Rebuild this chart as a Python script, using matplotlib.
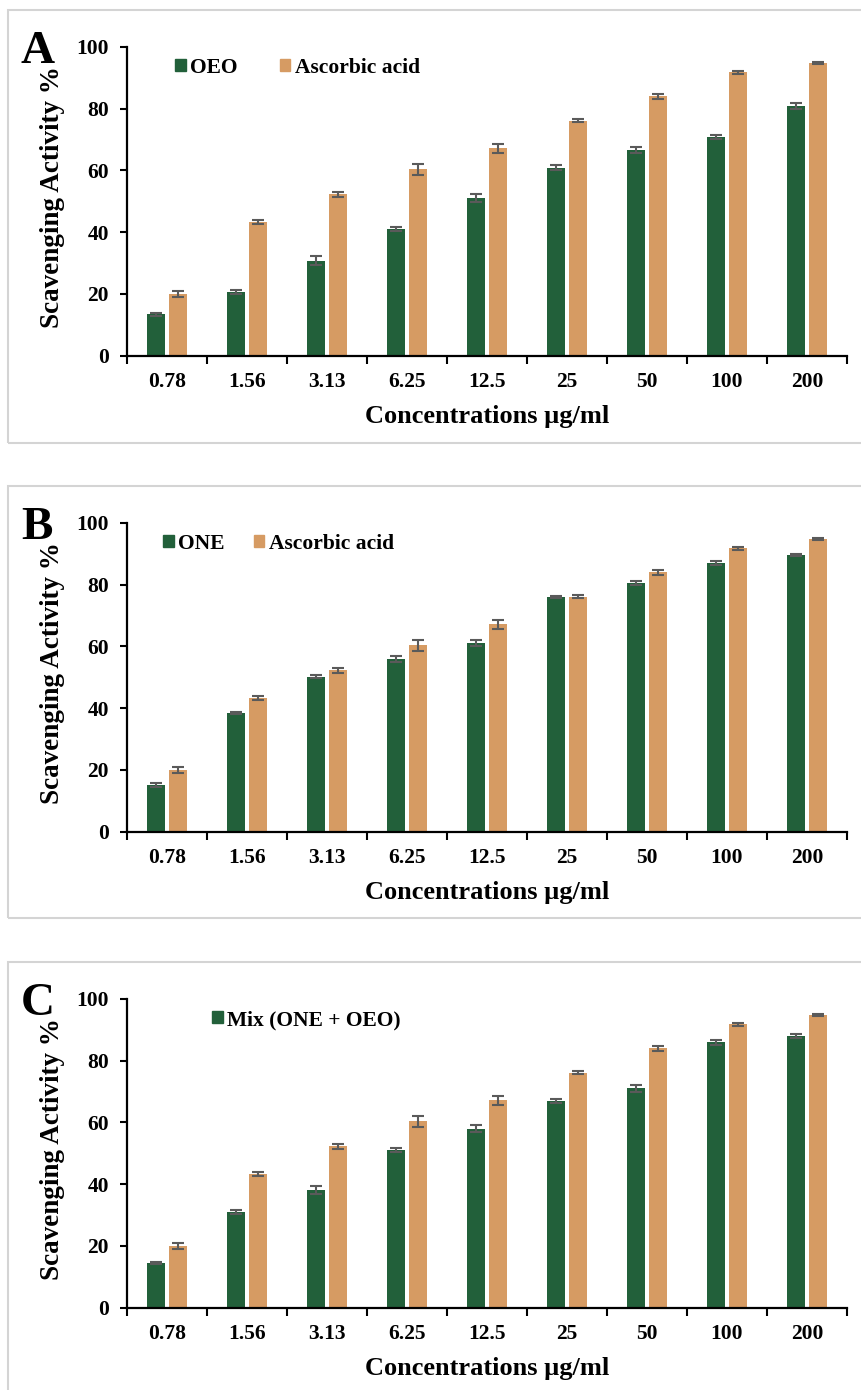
import numpy as np
import matplotlib
matplotlib.use('Agg')
import matplotlib.pyplot as plt
from matplotlib.patches import Rectangle, Patch

plt.rcParams['font.family'] = ['Liberation Serif', 'DejaVu Serif']
plt.rcParams['font.weight'] = 'bold'

concentrations = ['0.78', '1.56', '3.13', '6.25', '12.5', '25', '50', '100', '200']

ascorbic = [20.0, 43.2, 52.2, 60.3, 67.2, 76.1, 84.1, 91.8, 94.8]
ascorbic_err = [1.0, 0.6, 0.8, 1.7, 1.5, 0.5, 0.8, 0.5, 0.4]

oeo = [13.4, 20.6, 30.7, 41.0, 51.0, 60.9, 66.6, 70.9, 80.8]
oeo_err = [0.5, 0.7, 1.5, 0.8, 1.2, 0.7, 1.0, 0.6, 1.0]

one = [15.0, 38.4, 50.2, 55.8, 61.0, 76.0, 80.5, 87.0, 89.6]
one_err = [0.7, 0.3, 0.6, 1.0, 1.0, 0.4, 0.7, 0.6, 0.4]

mix = [14.5, 31.0, 38.0, 51.0, 58.0, 67.0, 71.0, 86.0, 88.0]
mix_err = [0.4, 0.6, 1.3, 0.7, 1.0, 0.7, 1.2, 0.8, 0.8]

green = '#22603a'
tan = '#d69b63'
err_col = '#5a5a5a'

W, H = 862, 1390
fig = plt.figure(figsize=(W / 100, H / 100), dpi=100)

# letter, values, errors, legend name, show ascorbic in legend, y of zero line, frame top, frame bottom,
# legend left (px), legend column spacing (em)
panels = [
    ('A', oeo, oeo_err, 'OEO', True, 355.5, 10, 443, 175, 1.95),
    ('B', one, one_err, 'ONE', True, 831.5, 486, 918, 163, 1.35),
    ('C', mix, mix_err, 'Mix (ONE + OEO)', False, 1307.5, 962, 1420, 212, 1.0),
]

x = np.arange(len(concentrations))
bw = 0.22
off = 0.14
ax_h = 308.5

for letter, vals, errs, name, show_asc, y0, box_top, box_bot, leg_px, colsp in panels:
    # light gray frame around each panel
    fig.patches.append(Rectangle((8 / W, 1 - box_bot / H), (W + 20) / W, (box_bot - box_top) / H,
                                 transform=fig.transFigure, fill=False, edgecolor='#d4d4d4',
                                 linewidth=1.5, clip_on=False))
    ax = fig.add_axes([127 / W, 1 - y0 / H, 720 / W, ax_h / H])
    ekw = dict(ecolor=err_col, elinewidth=1.5, capsize=4.2, capthick=1.5)
    ax.bar(x - off, vals, bw, color=green, yerr=errs, error_kw=ekw, zorder=2)
    ax.bar(x + off, ascorbic, bw, color=tan, yerr=ascorbic_err, error_kw=ekw, zorder=2)
    ax.set_ylim(0, 100)
    ax.set_xlim(-0.5, len(concentrations) - 0.5)
    ax.set_yticks([0, 20, 40, 60, 80, 100])
    ax.set_xticks(x)
    ax.set_xticklabels(concentrations)
    ax.set_xticks(np.arange(-0.5, len(concentrations)), minor=True)
    ax.tick_params(axis='x', which='major', length=0, labelsize=15.5, pad=12)
    ax.tick_params(axis='x', which='minor', length=6, width=1.5, direction='out')
    ax.tick_params(axis='y', length=5, width=1.5, labelsize=15.5, pad=8)
    for s in ['top', 'right']:
        ax.spines[s].set_visible(False)
    for s in ['left', 'bottom']:
        ax.spines[s].set_linewidth(1.6)
    for t in ax.get_xticklabels() + ax.get_yticklabels():
        t.set_fontweight('bold')
    ax.set_xlabel('Concentrations µg/ml', fontsize=19, fontweight='bold', labelpad=9.5)
    fig.text(53 / W, 1 - (y0 - ax_h / 2 - 4) / H, 'Scavenging Activity %', fontsize=19.5,
             fontweight='bold', rotation=90, ha='center', va='center')

    handles = [Patch(color=green, label=name)]
    if show_asc:
        handles.append(Patch(color=tan, label='Ascorbic acid'))
    ax.legend(handles=handles, loc='center left',
              bbox_to_anchor=((leg_px - 127) / 720, 1 - 21 / ax_h), ncol=2,
              frameon=False, borderpad=0, borderaxespad=0, handlelength=0.5, handleheight=0.5,
              handletextpad=0.2, columnspacing=colsp, prop={'size': 15.5, 'weight': 'bold'})

    fig.text(21 / W, 1 - (63 + box_top - 10) / H, letter, fontsize=34, fontweight='bold',
             ha='left', va='baseline')

fig.savefig('out.png', dpi=100)
